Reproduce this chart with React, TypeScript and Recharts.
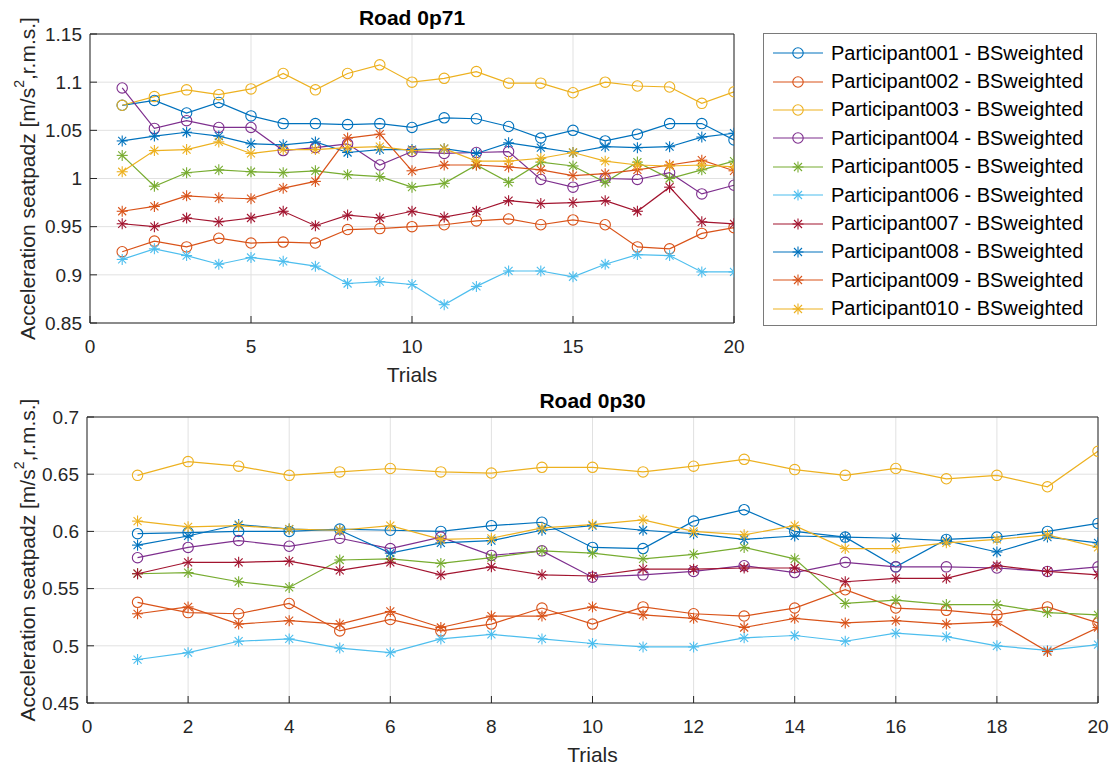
import { LineChart, Line, XAxis, YAxis, CartesianGrid, Legend } from 'recharts';

const FONT = '"Liberation Sans", Arial, Helvetica, sans-serif';
const AXIS_COLOR = '#262626';
const GRID_COLOR = '#e1e1e1';

const trials = [1, 2, 3, 4, 5, 6, 7, 8, 9, 10, 11, 12, 13, 14, 15, 16, 17, 18, 19, 20];

const participants = [
  'Participant001 - BSweighted',
  'Participant002 - BSweighted',
  'Participant003 - BSweighted',
  'Participant004 - BSweighted',
  'Participant005 - BSweighted',
  'Participant006 - BSweighted',
  'Participant007 - BSweighted',
  'Participant008 - BSweighted',
  'Participant009 - BSweighted',
  'Participant010 - BSweighted',
];
const markers = ['circle', 'circle', 'circle', 'circle', 'star', 'star', 'star', 'star', 'star', 'star'];
const colors = ['#0072BD', '#D95319', '#EDB120', '#7E2F8E', '#77AC30', '#4DBEEE', '#A2142F', '#0072BD', '#D95319', '#EDB120'];

// Road 0p71
const road071P001 = [1.076, 1.081, 1.068, 1.079, 1.065, 1.057, 1.057, 1.056, 1.057, 1.053, 1.063, 1.062, 1.054, 1.042, 1.050, 1.039, 1.046, 1.057, 1.057, 1.040];
const road071P002 = [0.924, 0.935, 0.929, 0.938, 0.933, 0.934, 0.933, 0.947, 0.948, 0.950, 0.952, 0.956, 0.958, 0.952, 0.957, 0.952, 0.929, 0.927, 0.943, 0.949];
const road071P003 = [1.076, 1.085, 1.092, 1.087, 1.093, 1.109, 1.092, 1.109, 1.118, 1.100, 1.104, 1.111, 1.099, 1.099, 1.089, 1.100, 1.096, 1.095, 1.078, 1.090];
const road071P004 = [1.094, 1.052, 1.060, 1.053, 1.053, 1.029, 1.032, 1.036, 1.014, 1.028, 1.026, 1.027, 1.028, 0.999, 0.991, 1.000, 0.999, 1.006, 0.984, 0.993];
const road071P005 = [1.024, 0.992, 1.006, 1.009, 1.007, 1.006, 1.008, 1.004, 1.002, 0.991, 0.995, 1.014, 0.996, 1.017, 1.013, 0.996, 1.017, 1.000, 1.009, 1.018];
const road071P006 = [0.916, 0.927, 0.920, 0.911, 0.918, 0.914, 0.909, 0.891, 0.893, 0.890, 0.869, 0.888, 0.904, 0.904, 0.898, 0.911, 0.921, 0.920, 0.903, 0.903];
const road071P007 = [0.953, 0.950, 0.959, 0.955, 0.959, 0.966, 0.951, 0.962, 0.959, 0.966, 0.960, 0.966, 0.977, 0.974, 0.975, 0.977, 0.966, 0.991, 0.955, 0.953];
const road071P008 = [1.039, 1.044, 1.048, 1.044, 1.036, 1.035, 1.038, 1.027, 1.030, 1.030, 1.031, 1.026, 1.037, 1.032, 1.027, 1.033, 1.032, 1.033, 1.043, 1.047];
const road071P009 = [0.966, 0.971, 0.982, 0.980, 0.979, 0.990, 0.997, 1.042, 1.046, 1.008, 1.014, 1.014, 1.012, 1.009, 1.003, 1.005, 1.009, 1.014, 1.019, 1.008];
const road071P010 = [1.007, 1.029, 1.030, 1.038, 1.026, 1.030, 1.030, 1.032, 1.033, 1.029, 1.031, 1.018, 1.018, 1.021, 1.027, 1.018, 1.014, 1.013, 1.014, 1.012];

// Road 0p30
const road030P001 = [0.598, 0.599, 0.600, 0.600, 0.602, 0.601, 0.600, 0.605, 0.608, 0.586, 0.585, 0.609, 0.619, 0.600, 0.595, 0.569, 0.593, 0.595, 0.600, 0.607];
const road030P002 = [0.538, 0.529, 0.528, 0.537, 0.513, 0.523, 0.513, 0.519, 0.533, 0.519, 0.534, 0.528, 0.526, 0.533, 0.549, 0.533, 0.531, 0.527, 0.534, 0.520];
const road030P003 = [0.649, 0.661, 0.657, 0.649, 0.652, 0.655, 0.652, 0.651, 0.656, 0.656, 0.652, 0.657, 0.663, 0.654, 0.649, 0.655, 0.646, 0.649, 0.639, 0.670];
const road030P004 = [0.577, 0.586, 0.592, 0.587, 0.594, 0.585, 0.595, 0.579, 0.583, 0.560, 0.562, 0.565, 0.570, 0.564, 0.573, 0.569, 0.569, 0.568, 0.565, 0.569];
const road030P005 = [0.563, 0.564, 0.556, 0.551, 0.575, 0.576, 0.572, 0.577, 0.583, 0.581, 0.576, 0.580, 0.586, 0.576, 0.537, 0.540, 0.536, 0.536, 0.529, 0.527];
const road030P006 = [0.488, 0.494, 0.504, 0.506, 0.498, 0.494, 0.506, 0.510, 0.506, 0.502, 0.499, 0.499, 0.507, 0.509, 0.504, 0.511, 0.508, 0.500, 0.496, 0.501];
const road030P007 = [0.563, 0.573, 0.573, 0.574, 0.566, 0.573, 0.562, 0.569, 0.562, 0.561, 0.567, 0.567, 0.568, 0.568, 0.556, 0.559, 0.559, 0.570, 0.565, 0.562];
const road030P008 = [0.588, 0.596, 0.606, 0.602, 0.601, 0.581, 0.590, 0.592, 0.601, 0.605, 0.601, 0.598, 0.593, 0.596, 0.595, 0.594, 0.592, 0.582, 0.595, 0.590];
const road030P009 = [0.528, 0.534, 0.519, 0.522, 0.519, 0.530, 0.516, 0.526, 0.526, 0.534, 0.527, 0.524, 0.516, 0.524, 0.520, 0.522, 0.519, 0.521, 0.495, 0.516];
const road030P010 = [0.609, 0.604, 0.605, 0.602, 0.601, 0.605, 0.593, 0.594, 0.603, 0.606, 0.610, 0.600, 0.597, 0.605, 0.585, 0.585, 0.590, 0.593, 0.597, 0.586];

const road071 = [road071P001, road071P002, road071P003, road071P004, road071P005, road071P006, road071P007, road071P008, road071P009, road071P010];
const road030 = [road030P001, road030P002, road030P003, road030P004, road030P005, road030P006, road030P007, road030P008, road030P009, road030P010];

const xTicks071 = [0, 5, 10, 15, 20];
const yTicks071 = [0.85, 0.9, 0.95, 1, 1.05, 1.1, 1.15];
const xTicks030 = [0, 2, 4, 6, 8, 10, 12, 14, 16, 18, 20];
const yTicks030 = [0.45, 0.5, 0.55, 0.6, 0.65, 0.7];

function buildRows(series: number[][]) {
  return trials.map((t, i) => {
    const row: Record<string, number> = { trial: t };
    series.forEach((s, k) => {
      row[`p${k}`] = s[i];
    });
    return row;
  });
}

function MarkerShape({ cx, cy, shape, color }: { cx: number; cy: number; shape: string; color: string }) {
  if (shape === 'circle') {
    return <circle cx={cx} cy={cy} r={5.2} fill="none" stroke={color} strokeWidth={1.1} />;
  }
  const a = 5.5;
  const d = 4;
  return (
    <g stroke={color} strokeWidth={1.1}>
      <line x1={cx - a} y1={cy} x2={cx + a} y2={cy} />
      <line x1={cx} y1={cy - a} x2={cx} y2={cy + a} />
      <line x1={cx - d} y1={cy - d} x2={cx + d} y2={cy + d} />
      <line x1={cx - d} y1={cy + d} x2={cx + d} y2={cy - d} />
    </g>
  );
}

const makeDot = (shape: string, color: string) => (props: any) => {
  const { cx, cy, index } = props;
  if (cx == null || cy == null) return <g key={index} />;
  return (
    <g key={index}>
      <MarkerShape cx={cx} cy={cy} shape={shape} color={color} />
    </g>
  );
};

function YLabel({ viewBox }: any) {
  const x = 27;
  const y = viewBox.y + viewBox.height / 2;
  return (
    <text
      x={x}
      y={y}
      transform={`rotate(-90 ${x} ${y})`}
      textAnchor="middle"
      dominantBaseline="central"
      fontSize={21}
      fill={AXIS_COLOR}
    >
      Acceleration seatpadz [m/s
      <tspan dy={-8} fontSize={14}>2</tspan>
      <tspan dy={8}>,r.m.s.]</tspan>
    </text>
  );
}

function LegendBox() {
  return (
    <div
      style={{
        width: 334,
        height: 293,
        boxSizing: 'border-box',
        border: '1px solid #7a7a7a',
        background: '#fff',
        paddingTop: 5,
        fontFamily: FONT,
        fontSize: 20,
        color: '#000',
      }}
    >
      {participants.map((name, k) => (
        <div key={name} style={{ display: 'flex', alignItems: 'center', height: 28.4 }}>
          <svg width={50} height={20} style={{ marginLeft: 9, marginRight: 8, flexShrink: 0 }}>
            <line x1={0} y1={10} x2={50} y2={10} stroke={colors[k]} strokeWidth={1.2} />
            <MarkerShape cx={25} cy={10} shape={markers[k]} color={colors[k]} />
          </svg>
          <span style={{ whiteSpace: 'nowrap' }}>{name}</span>
        </div>
      ))}
    </div>
  );
}

const fmt = (v: number) => String(Number(v.toFixed(2)));

interface PanelProps {
  title: string;
  series: number[][];
  xTicks: number[];
  yTicks: number[];
  height: number;
  margin: { top: number; right: number; bottom: number; left: number };
  withLegend?: boolean;
}

// every axis is 1px thick, so the margins below are one pixel short of the plot edges
function Panel({ title, series, xTicks, yTicks, height, margin, withLegend }: PanelProps) {
  const data = buildRows(series);
  const xDomain = [xTicks[0], xTicks[xTicks.length - 1]];
  const yDomain = [yTicks[0], yTicks[yTicks.length - 1]];
  const axisLine = { stroke: AXIS_COLOR, strokeWidth: 1 };
  return (
    <LineChart width={1110} height={height} data={data} margin={margin} style={{ fontFamily: FONT }}>
      <CartesianGrid stroke={GRID_COLOR} strokeWidth={1} />
      <XAxis
        dataKey="trial"
        type="number"
        domain={xDomain}
        ticks={xTicks}
        interval={0}
        allowDataOverflow
        height={1}
        axisLine={axisLine}
        tickLine={{ stroke: AXIS_COLOR }}
        tickSize={-7}
        tickMargin={24}
        tick={{ fill: AXIS_COLOR, fontSize: 19 }}
        label={{ value: 'Trials', position: 'bottom', offset: 43, fontSize: 21, fill: AXIS_COLOR }}
      />
      <XAxis
        xAxisId="top"
        orientation="top"
        type="number"
        domain={xDomain}
        ticks={xTicks}
        interval={0}
        allowDataOverflow
        height={1}
        axisLine={axisLine}
        tickLine={{ stroke: AXIS_COLOR }}
        tickSize={-7}
        tick={false}
        label={{ value: title, position: 'top', offset: 8, fontSize: 21, fontWeight: 'bold', fill: '#000' }}
      />
      <YAxis
        type="number"
        domain={yDomain}
        ticks={yTicks}
        interval={0}
        allowDataOverflow
        width={1}
        axisLine={axisLine}
        tickLine={{ stroke: AXIS_COLOR }}
        tickSize={-7}
        tickMargin={15}
        tickFormatter={fmt}
        tick={{ fill: AXIS_COLOR, fontSize: 19 }}
        label={(p: any) => <YLabel {...p} />}
      />
      <YAxis
        yAxisId="right"
        orientation="right"
        type="number"
        domain={yDomain}
        ticks={yTicks}
        interval={0}
        allowDataOverflow
        width={1}
        axisLine={axisLine}
        tickLine={{ stroke: AXIS_COLOR }}
        tickSize={-7}
        tick={false}
      />
      {withLegend && (
        <Legend
          layout="horizontal"
          verticalAlign="middle"
          align="center"
          content={() => <LegendBox />}
          wrapperStyle={{ left: 763, top: 33, width: 334, height: 293 }}
        />
      )}
      {series.map((_, k) => (
        <Line
          key={k}
          type="linear"
          dataKey={`p${k}`}
          name={participants[k]}
          stroke={colors[k]}
          strokeWidth={1.2}
          dot={makeDot(markers[k], colors[k])}
          activeDot={false}
          isAnimationActive={false}
        />
      ))}
    </LineChart>
  );
}

export default function App() {
  return (
    <div style={{ position: 'absolute', left: 0, top: 0, width: 1110, height: 769, background: '#fff', fontFamily: FONT }}>
      <div style={{ position: 'absolute', left: 0, top: 0 }}>
        <Panel
          title="Road 0p71"
          series={road071}
          xTicks={xTicks071}
          yTicks={yTicks071}
          height={394}
          margin={{ top: 33, right: 375, bottom: 70, left: 89 }}
          withLegend
        />
      </div>
      <div style={{ position: 'absolute', left: 0, top: 384 }}>
        <Panel
          title="Road 0p30"
          series={road030}
          xTicks={xTicks030}
          yTicks={yTicks030}
          height={385}
          margin={{ top: 32, right: 11, bottom: 65, left: 86 }}
        />
      </div>
    </div>
  );
}
